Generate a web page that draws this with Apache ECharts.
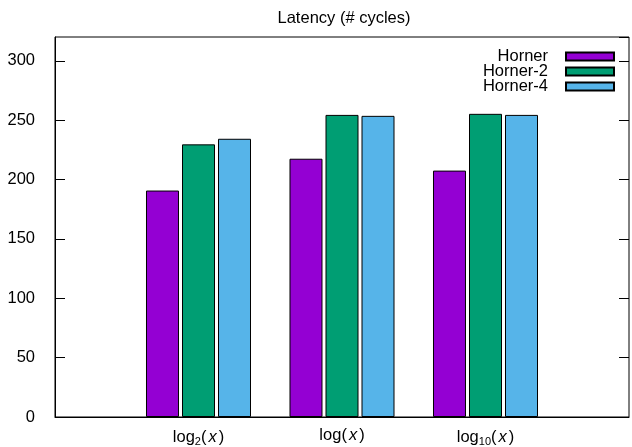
<!DOCTYPE html>
<html>
<head>
<meta charset="utf-8">
<script src="https://cdn.jsdelivr.net/npm/echarts@6/dist/echarts.min.js"></script>
<style>html,body{margin:0;padding:0;background:#fff}#c{width:632px;height:447px}</style>
</head>
<body>
<div id="c"></div>
<script>
var categories = ['', 'log2', 'log', 'log10', ''];
var seriesNames = ['Horner', 'Horner-2', 'Horner-4'];
var horner  = [null, 190.7, 217.5, 207.5, null];
var horner2 = [null, 229.6, 254.4, 255.3, null];
var horner4 = [null, 234.3, 253.6, 254.4, null];
var yTicks = [0, 50, 100, 150, 200, 250, 300];

var colors = ['#9400D3', '#009E73', '#56B4E9'];
var FONT = 'Liberation Sans, Arial, Helvetica, sans-serif';

var labelMap = {
  'log2': '{n|log}{s|2}{n|(}{i|x}{n|)}',
  'log': '{n|log(}{i|x}{n|)}',
  'log10': '{n|log}{s|10}{n|(}{i|x}{n|)}'
};

var chart = echarts.init(document.getElementById('c'), null, {renderer: 'canvas'});
function mkSeries(name, data, color) {
  return {
    name: name, type: 'bar', data: data, barWidth: 33, barGap: '9.1%',
    itemStyle: {color: color, borderColor: '#000', borderWidth: 1},
    animation: false
  };
}
chart.setOption({
  animation: false,
  title: {
    text: 'Latency (# cycles)', left: 339, top: 5, textAlign: 'center',
    textStyle: {fontFamily: FONT, fontSize: 16.5, fontWeight: 'normal', color: '#000'}
  },
  legend: {
    data: seriesNames, orient: 'vertical', right: 12, top: 43, align: 'right',
    icon: 'rect', itemWidth: 48, itemHeight: 8, itemGap: -2,
    textStyle: {fontFamily: FONT, fontSize: 16.5, color: '#000', lineHeight: 15, padding: [0, 13, 0, 0]}
  },
  grid: {left: 55, top: 37, width: 579, bottom: 29, show: true, borderColor: '#000', borderWidth: 1, containLabel: false},
  xAxis: {
    type: 'category', data: categories, boundaryGap: false,
    axisLine: {lineStyle: {color: '#000', width: 1}},
    axisTick: {show: false},
    axisLabel: {
      margin: 10, interval: 0,
      formatter: function (v) { return labelMap[v] || ''; },
      rich: {
        n: {fontFamily: FONT, fontSize: 16.5, color: '#000'},
        i: {fontFamily: FONT, fontSize: 16.5, fontStyle: 'italic', color: '#000', padding: [0, 2, 0, 2]},
        s: {fontFamily: FONT, fontSize: 11, color: '#000', verticalAlign: 'bottom', padding: [9, 0, 0, 0]}
      }
    },
    splitLine: {show: false}
  },
  yAxis: [{
    type: 'value', min: 0, max: 320, interval: 50,
    axisLine: {show: true, lineStyle: {color: '#000', width: 1}},
    axisTick: {show: true, inside: true, length: 10, lineStyle: {color: '#000'}},
    axisLabel: {margin: 20, fontFamily: FONT, fontSize: 16.5, color: '#000', showMaxLabel: false,
      formatter: function (v) { return yTicks.indexOf(v) >= 0 ? String(v) : ''; }},
    splitLine: {show: false}
  }, {
    type: 'value', min: 0, max: 320, interval: 50, position: 'right',
    axisLine: {show: false},
    axisTick: {show: true, inside: true, length: 10, lineStyle: {color: '#000'}},
    axisLabel: {show: false},
    splitLine: {show: false}
  }],
  series: [
    mkSeries(seriesNames[0], horner, colors[0]),
    mkSeries(seriesNames[1], horner2, colors[1]),
    mkSeries(seriesNames[2], horner4, colors[2])
  ]
});
</script>
</body>
</html>
